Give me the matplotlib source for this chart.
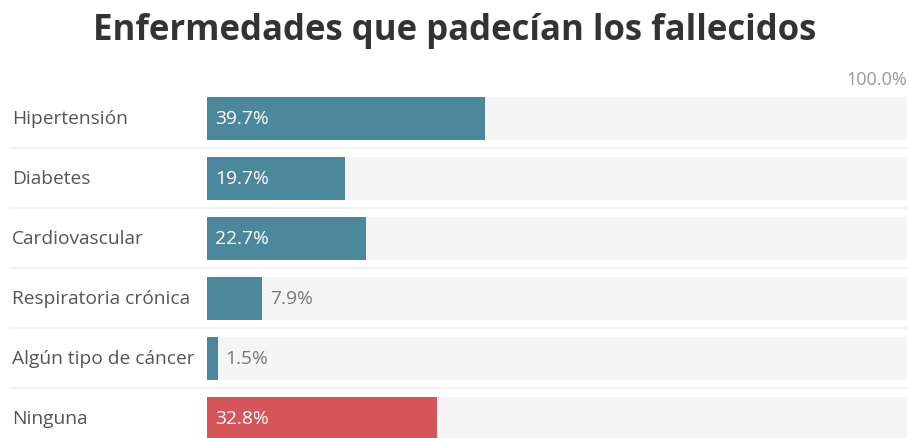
import matplotlib.pyplot as plt
from matplotlib import rc

rc('font', family=['Open Sans', 'DejaVu Sans'])

# data
categories = ['Hipertensión', 'Diabetes', 'Cardiovascular', 'Respiratoria crónica',
              'Algún tipo de cáncer', 'Ninguna']
values = [39.7, 19.7, 22.7, 7.9, 1.5, 32.8]
colors = ['#4b889c'] * 5 + ['#d5555b']

W, H = 910, 438
fig = plt.figure(figsize=(W / 100, H / 100), dpi=100)

# axes: x from 207px to 907px (0-100%), rows of 60px starting at 88.5px
x0, x1 = 207, 907
top = 88.5
ax = fig.add_axes([x0 / W, 0, (x1 - x0) / W, (H - top) / H])
nrows = (H - top) / 60.0
ax.set_xlim(0, 100)
ax.set_ylim(-0.5 + nrows, -0.5)
ax.axis('off')

ypos = list(range(len(categories)))
ax.barh(ypos, [100] * len(values), height=0.73, color='#f5f5f5', zorder=1)
ax.barh(ypos, values, height=0.73, color=colors, zorder=2)

pad = 100 * 8 / (x1 - x0)
for y, v, name in zip(ypos, values, categories):
    label = '{:.1f}%'.format(v)
    if v > 12:
        ax.text(pad, y, label, color='white', fontsize=13.8, va='center', ha='left', zorder=3)
    else:
        ax.text(v + pad, y, label, color='#777777', fontsize=13.8, va='center', ha='left', zorder=3)
    ax.text(-(x0 - 12) / (x1 - x0) * 100, y, name, color='#555555', fontsize=13.8,
            va='center', ha='left', clip_on=False)
    # thin separator under each row
    ax.axhline(y + 0.49, xmin=-(x0 - 10) / (x1 - x0), xmax=1.0, color='#f0f0f0',
               lw=1.2, clip_on=False, zorder=0)

fig.text(907 / W, 1 - 80 / H, '100.0%', color='#999999', fontsize=13, ha='right', va='center')
fig.suptitle('Enfermedades que padecían los fallecidos', x=0.5, y=1 - 31 / H, va='center',
             fontsize=25, fontweight='bold', color='#333333')

plt.savefig('out.png', dpi=100)
